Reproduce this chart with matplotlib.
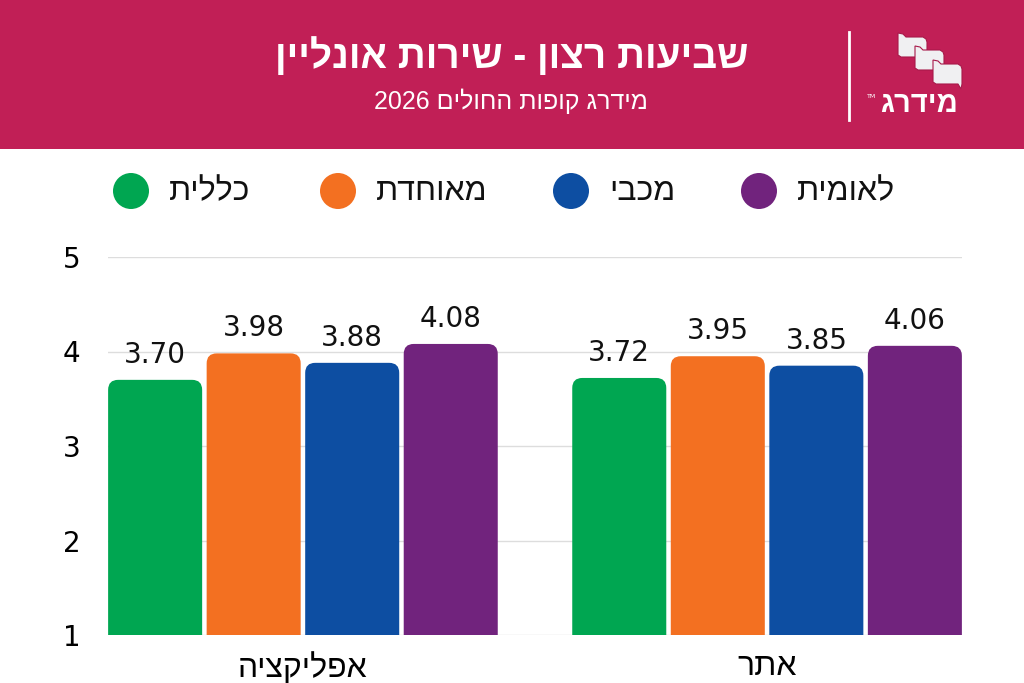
import re
import matplotlib
matplotlib.use("Agg")
import matplotlib.pyplot as plt
from matplotlib.patches import Rectangle, Circle, FancyBboxPatch, Polygon

# data
categories = ["אפליקציה", "אתר"]
funds = ["כללית", "מאוחדת", "מכבי", "לאומית"]
colors = ["#00A651", "#F37021", "#0D4EA2", "#71237D"]
values = {
    "כללית": [3.70, 3.72],
    "מאוחדת": [3.98, 3.95],
    "מכבי": [3.88, 3.85],
    "לאומית": [4.08, 4.06],
}
yticks = [1, 2, 3, 4, 5]

title = "שביעות רצון - שירות אונליין"
subtitle = "מידרג קופות החולים 2026"
brand = "מידרג"

HEADER = "#C11F56"
HEB = ["Liberation Sans", "DejaVu Sans"]
NUM = ["DejaVu Sans"]


def heb(s):
    """Reverse Hebrew for left-to-right drawing, keep digit runs in order."""
    r = s[::-1]
    return re.sub(r"\d+", lambda m: m.group(0)[::-1], r)


fig = plt.figure(figsize=(10.24, 6.83), dpi=100)

# overlay in pixel coords for header and legend
bg = fig.add_axes([0, 0, 1, 1], zorder=0)
bg.set_xlim(0, 1024)
bg.set_ylim(683, 0)
bg.axis("off")

bg.add_patch(Rectangle((0, 0), 1024, 149, color=HEADER, lw=0))
bg.text(512, 57, heb(title), color="white", fontsize=28, fontweight="bold",
        family=HEB, ha="center", va="center")
bg.text(511, 101, heb(subtitle), color="white", fontsize=18,
        family=HEB, ha="center", va="center")
bg.plot([849, 849], [32, 120], color="white", lw=2)

# logo flags
flag = [(0, 0), (5, 1), (8, 4), (25, 4), (28, 6), (29, 9), (29, 24),
        (28, 29), (25, 24), (3, 24), (0, 22)]
for dx, dy in [(898, 33), (915, 46), (933, 60)]:
    bg.add_patch(Polygon([(dx + px, dy + py) for px, py in flag],
                         closed=True, fc="#F0F0F2", ec="#A8194A", lw=0.8))
bg.text(919, 104, heb(brand), color="white", fontsize=21, fontweight="bold",
        family=HEB, ha="center", va="center")
bg.text(876, 97, "TM", color="white", fontsize=4.5, ha="right", va="center")

# legend
legend_x = [131, 338, 571, 759]
for fund, col, cx in zip(funds, colors, legend_x):
    bg.add_patch(Circle((cx, 191), 18, color=col, lw=0))
    bg.text(cx + 38, 192, heb(fund), fontsize=23, family=HEB,
            ha="left", va="center", color="#111111")

# main chart
ax = fig.add_axes([108 / 1024, 1 - 635 / 683, 854 / 1024, 378 / 683], zorder=1)
ax.set_facecolor("none")
ax.set_xlim(-0.42, 1.42)
ax.set_ylim(1, 5)

slot = 0.2123
width = 0.2026
px_x = 1.84 / 854
px_y = 4 / 378
radius = 10 * px_x

for i, (fund, col) in enumerate(zip(funds, colors)):
    xs = [c + (i - 1.5) * slot for c in range(len(categories))]
    for x, v in zip(xs, values[fund]):
        ax.add_patch(FancyBboxPatch((x - width / 2, 0), width, v,
                                    boxstyle=f"round,pad=0,rounding_size={radius}",
                                    mutation_aspect=px_y / px_x,
                                    fc=col, ec="none", zorder=2))
        ax.annotate(f"{v:.2f}", (x, v), xytext=(0, 8), textcoords="offset points",
                    ha="center", va="bottom", fontsize=20, family=NUM,
                    color="#111111", zorder=3)

ax.set_yticks(yticks)
ax.set_yticklabels([str(t) for t in yticks], family=NUM, fontsize=20)
ax.set_xticks(range(len(categories)))
ax.set_xticklabels([heb(c) for c in categories], family=HEB, fontsize=23)
ax.tick_params(axis="y", length=0, pad=20)
ax.tick_params(axis="x", length=0, pad=12)
ax.yaxis.grid(True, color="#DDDDDD", lw=1, zorder=0)
ax.set_axisbelow(True)
for s in ax.spines.values():
    s.set_visible(False)

fig.savefig("out.png", dpi=100)
